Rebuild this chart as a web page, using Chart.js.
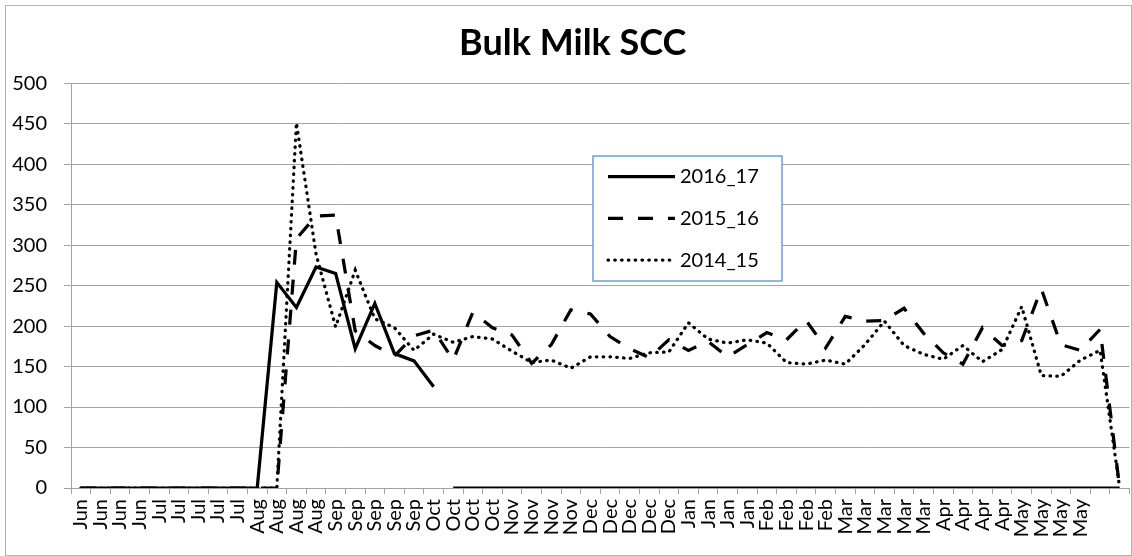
<!DOCTYPE html>
<html>
<head>
<meta charset="utf-8">
<title>Bulk Milk SCC</title>
<script src="https://cdn.jsdelivr.net/npm/chart.js@4.4.1/dist/chart.umd.min.js"></script>
<style>
    html, body {
        margin: 0;
        padding: 0;
        background: #ffffff;
    }

    #wrap {
        position: relative;
        width: 1132px;
        height: 556px;
    }

    #frame {
        position: absolute;
        left: 5px;
        top: 5px;
        width: 1125px;
        height: 549px;
        border: 1px solid #b3b3b3;
        pointer-events: none;
    }
</style>
</head>
<body>

<div id="wrap">
    <div id="frame"></div>
    <canvas id="sccChart"></canvas>
</div>

<script>
// ======================================================
// DATA - weekly bulk milk somatic cell count
// ======================================================

const weeks = [
    "Jun", "Jun", "Jun", "Jun",
    "Jul", "Jul", "Jul", "Jul", "Jul",
    "Aug", "Aug", "Aug", "Aug",
    "Sep", "Sep", "Sep", "Sep", "Sep",
    "Oct", "Oct", "Oct", "Oct",
    "Nov", "Nov", "Nov", "Nov",
    "Dec", "Dec", "Dec", "Dec", "Dec",
    "Jan", "Jan", "Jan", "Jan",
    "Feb", "Feb", "Feb", "Feb",
    "Mar", "Mar", "Mar", "Mar", "Mar",
    "Apr", "Apr", "Apr", "Apr",
    "May", "May", "May", "May",
    "", ""
];

const season2016_17 = [
    0, 0, 0, 0, 0, 0, 0, 0, 0, 0,
    254, 223, 273, 265, 172, 228, 166, 157, 125,
    0, 0, 0, 0, 0, 0, 0, 0, 0, 0,
    0, 0, 0, 0, 0, 0, 0, 0, 0, 0,
    0, 0, 0, 0, 0, 0, 0, 0, 0, 0,
    0, 0, 0, 0, 0
];

const season2015_16 = [
    0, 0, 0, 0, 0, 0, 0, 0, 0, 0, 0,
    308, 336, 337, 194, 176, 163, 188, 195, 158, 217,
    198, 189, 154, 177, 220, 215, 187, 172, 161, 183,
    170, 181, 162, 177, 192, 183, 207, 173, 212, 206,
    207, 222, 191, 167, 153, 198, 176, 182, 246, 177,
    170, 196, 0
];

const season2014_15 = [
    0, 0, 0, 0, 0, 0, 0, 0, 0, 0, 0,
    451, 289, 199, 269, 209, 198, 170, 190, 180, 187,
    184, 169, 155, 158, 148, 162, 162, 160, 167, 168,
    204, 184, 179, 183, 179, 155, 153, 158, 153, 177,
    206, 176, 165, 159, 176, 156, 171, 224, 139, 138,
    158, 170, 0
];

const yTicks = [0, 50, 100, 150, 200, 250, 300, 350, 400, 450, 500];

// 2016_17 has no reading between the last autumn week and the zero run
const gapAfter = 18;

const FONT = "Lato";
const GRID = "#a3a3a3";


// ======================================================
// LEGEND BOX (drawn inside the plot area)
// ======================================================
const legendBox = {

    id: "legendBox",

    afterLayout(chart, args, opts) {
        // centre the title over the frame rather than the whole canvas
        if (chart.titleBlock) {
            chart.titleBlock.left += opts.titleShift;
        }
    },

    afterDraw(chart, args, opts) {

        const ctx = chart.ctx;

        ctx.save();

        ctx.fillStyle = "#ffffff";
        ctx.fillRect(opts.x, opts.y, opts.w, opts.h);

        ctx.strokeStyle = opts.borderColor;
        ctx.lineWidth = 1.5;
        ctx.strokeRect(opts.x, opts.y, opts.w, opts.h);

        chart.data.datasets.forEach((ds, i) => {

            const y = opts.y + opts.rowTop + i * opts.rowGap;

            ctx.beginPath();
            ctx.setLineDash(ds.borderDash || []);
            ctx.lineCap = ds.borderCapStyle || "butt";
            ctx.lineWidth = ds.borderWidth;
            ctx.strokeStyle = ds.borderColor;
            ctx.moveTo(opts.x + 15, y);
            ctx.lineTo(opts.x + 82, y);
            ctx.stroke();

            ctx.setLineDash([]);
            ctx.fillStyle = "#000000";
            ctx.font = "20px " + FONT;
            ctx.textBaseline = "middle";
            ctx.textAlign = "left";
            ctx.fillText(ds.label, opts.x + 87, y);

        });

        ctx.restore();
    }
};


// ======================================================
// LINE CHART
// ======================================================
function loadSccChart() {

    const ctx = document.getElementById("sccChart");

    if (!ctx) return;

    new Chart(ctx, {

        type: "line",

        data: {

            labels: weeks,

            datasets: [

                {
                    label: "2016_17",
                    data: season2016_17,
                    borderColor: "#000000",
                    borderWidth: 3.25,
                    segment: {
                        borderColor: c => (c.p0DataIndex === gapAfter ? "rgba(0,0,0,0)" : undefined)
                    }
                },

                {
                    label: "2015_16",
                    data: season2015_16,
                    borderColor: "#000000",
                    borderWidth: 3.25,
                    borderDash: [15, 15]
                },

                {
                    label: "2014_15",
                    data: season2014_15,
                    borderColor: "#000000",
                    borderWidth: 3.25,
                    borderDash: [0.5, 6.3],
                    borderCapStyle: "round"
                }

            ]
        },

        options: {

            responsive: true,

            maintainAspectRatio: false,

            animation: false,

            elements: {
                point: { radius: 0, hoverRadius: 0 },
                line: { tension: 0, fill: false }
            },

            layout: {
                padding: { left: 0, right: 2.5, top: 6, bottom: 0 }
            },

            plugins: {

                legend: { display: false },

                tooltip: { enabled: false },

                title: {
                    display: true,
                    text: "Bulk Milk SCC",
                    color: "#000000",
                    font: { family: FONT, size: 36, weight: "bold" },
                    padding: { top: 16, bottom: 18 }
                },

                legendBox: {
                    x: 593,
                    y: 156,
                    w: 189,
                    h: 125,
                    rowTop: 20.7,
                    rowGap: 41.7,
                    borderColor: "#6a9fd8",
                    titleShift: 16
                }

            },

            scales: {

                x: {
                    offset: true,
                    grid: {
                        offset: true,
                        drawOnChartArea: false,
                        color: GRID,
                        tickLength: 6
                    },
                    border: { color: GRID, width: 1 },
                    ticks: {
                        autoSkip: false,
                        maxRotation: 90,
                        minRotation: 90,
                        padding: 5,
                        color: "#000000",
                        font: { family: FONT, size: 20 }
                    },
                    afterFit(scale) {
                        scale.height = 68;
                        scale.paddingLeft = 0;
                        scale.paddingRight = 0;
                    }
                },

                y: {
                    min: 0,
                    max: 500,
                    afterBuildTicks(scale) {
                        scale.ticks = yTicks.map(v => ({ value: v }));
                    },
                    grid: {
                        color: GRID,
                        tickLength: 7
                    },
                    border: { color: GRID, width: 1 },
                    ticks: {
                        padding: 17,
                        color: "#000000",
                        font: { family: FONT, size: 20 }
                    },
                    afterFit(scale) {
                        scale.width = 71;
                    }
                }

            }

        },

        plugins: [legendBox]

    });

}


document.addEventListener("DOMContentLoaded", () => {

    loadSccChart();

});
</script>

</body>
</html>
